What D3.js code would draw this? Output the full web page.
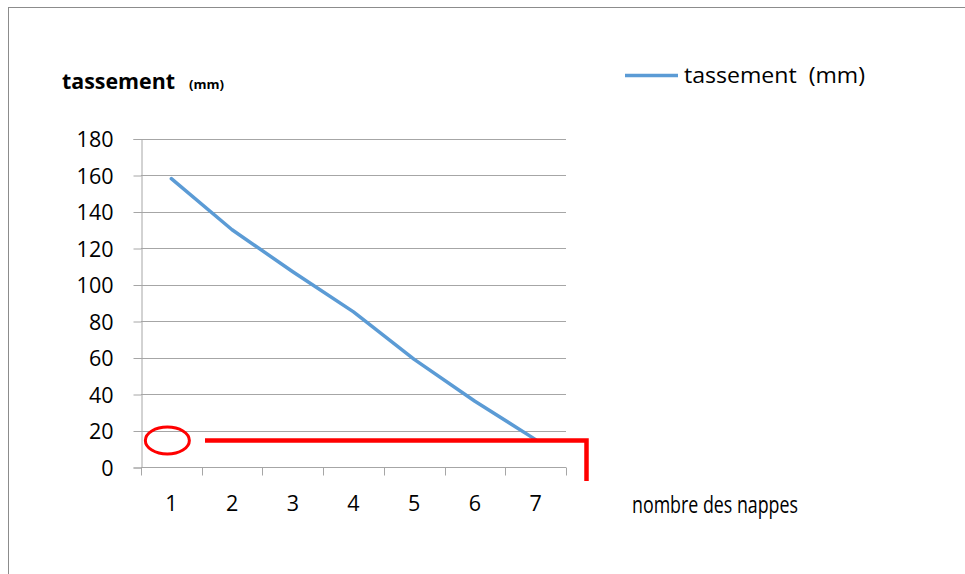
<!DOCTYPE html>
<html>
<head>
<meta charset="utf-8">
<script src="https://cdn.jsdelivr.net/npm/d3@7"></script>
<style>
  html, body { margin: 0; padding: 0; background: #fff; }
  svg { display: block; }
  text { font-family: "Open Sans", "Liberation Sans", sans-serif; fill: #000; }
</style>
</head>
<body>
<svg id="chart" width="965" height="574"></svg>
<script>
// ---- data ----
const categories = ["1", "2", "3", "4", "5", "6", "7"];
const tassement = [158, 130, 107, 85, 59, 36, 15];
const yTicks = [0, 20, 40, 60, 80, 100, 120, 140, 160, 180];
const seriesName = "tassement  (mm)";
const yTitle = "tassement";
const yUnit = "(mm)";
const xTitle = "nombre des nappes";
const highlightLevel = [14.5];   // red annotation level

const svg = d3.select("#chart");

// outer frame
svg.append("rect").attr("x", 8.5).attr("y", 7.5).attr("width", 980).attr("height", 600)
  .attr("fill", "#fff").attr("stroke", "#8c8c8c").attr("stroke-width", 1);

const plot = { left: 141, right: 566, top: 138.5, bottom: 467 };

const x = d3.scaleBand().domain(categories).range([plot.left, plot.right]).padding(0);
const y = d3.scaleLinear().domain([0, 180]).range([plot.bottom, plot.top]);

// gridlines
svg.append("g").selectAll("line").data(yTicks.filter(d => d > 0)).join("line")
  .attr("x1", plot.left).attr("x2", plot.right)
  .attr("y1", d => Math.round(y(d)) + 0.5).attr("y2", d => Math.round(y(d)) + 0.5)
  .attr("stroke", "#a6a6a6").attr("stroke-width", 1);

// y axis
const yAxis = d3.axisLeft(y).tickValues(yTicks).tickSize(8).tickPadding(20);
const gy = svg.append("g").attr("transform", `translate(${plot.left + 0.5},0.5)`).call(yAxis);
gy.select(".domain").attr("stroke", "#a6a6a6");
gy.selectAll(".tick line").attr("stroke", "#a6a6a6");
gy.selectAll(".tick text").attr("font-size", 21.5).attr("font-family", "'Open Sans', sans-serif")
  .attr("fill", "#000").attr("dy", "0.36em");

// x axis
const xAxis = d3.axisBottom(x).tickSize(0).tickPadding(28);
const gx = svg.append("g").attr("transform", `translate(0,${plot.bottom + 0.5})`).call(xAxis);
gx.select(".domain").attr("stroke", "#a6a6a6").attr("d", `M${plot.left},0H${plot.right}`);
gx.selectAll(".tick text").attr("font-size", 21.5).attr("font-family", "'Open Sans', sans-serif")
  .attr("fill", "#000");
// x tick marks at category boundaries
const bounds = categories.map(c => x(c)).concat([x(categories[categories.length - 1]) + x.bandwidth()]);
gx.append("g").selectAll("line").data(bounds).join("line")
  .attr("x1", d => Math.round(d) + 0.5).attr("x2", d => Math.round(d) + 0.5)
  .attr("y1", 0).attr("y2", 8).attr("stroke", "#a6a6a6");

// series line
const line = d3.line()
  .x((d, i) => x(categories[i]) + x.bandwidth() / 2)
  .y(d => y(d));
svg.append("path").datum(tassement).attr("d", line)
  .attr("fill", "none").attr("stroke", "#5b9bd5").attr("stroke-width", 3.5)
  .attr("stroke-linecap", "round").attr("stroke-linejoin", "round");

// axis titles
svg.append("text").attr("x", 62).attr("y", 89).attr("font-weight", "bold").attr("font-size", 21)
  .attr("textLength", 113).attr("lengthAdjust", "spacingAndGlyphs").text(yTitle);
svg.append("text").attr("x", 189).attr("y", 89).attr("font-weight", "bold").attr("font-size", 13)
  .attr("textLength", 35).attr("lengthAdjust", "spacingAndGlyphs").text(yUnit);

svg.append("text").attr("x", 632).attr("y", 513).attr("font-size", 23)
  .attr("font-family", "'Liberation Sans Narrow', 'Open Sans', sans-serif")
  .attr("textLength", 166).attr("lengthAdjust", "spacingAndGlyphs").text(xTitle);

// legend
svg.append("line").attr("x1", 625).attr("x2", 678).attr("y1", 75.5).attr("y2", 75.5)
  .attr("stroke", "#5b9bd5").attr("stroke-width", 3.5);
svg.append("text").attr("x", 684).attr("y", 83).attr("font-size", 22)
  .style("white-space", "pre")
  .attr("textLength", 181).attr("lengthAdjust", "spacingAndGlyphs").text(seriesName);

// red annotations
const hy = y(highlightLevel[0]);
svg.append("ellipse").attr("cx", x(categories[0]) + x.bandwidth() / 2 - 4).attr("cy", hy)
  .attr("rx", 22).attr("ry", 13.5)
  .attr("fill", "none").attr("stroke", "#ff0000").attr("stroke-width", 3);
svg.append("path")
  .attr("d", `M205,${hy}H586.5V481`)
  .attr("fill", "none").attr("stroke", "#ff0000").attr("stroke-width", 4.5);
</script>
</body>
</html>
